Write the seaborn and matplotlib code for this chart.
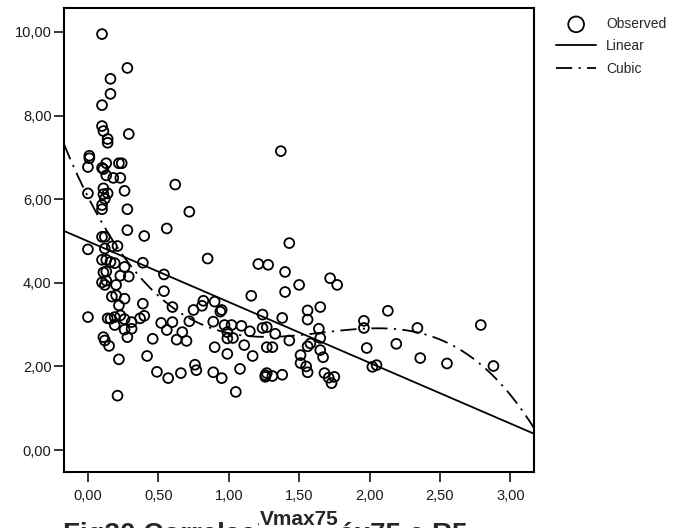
import numpy as np
import pandas as pd
import matplotlib
matplotlib.use("Agg")
import matplotlib.pyplot as plt
import seaborn as sns
from matplotlib.ticker import FuncFormatter, FixedLocator

# Observed pairs (Vmax75, R5)
vmax75 = [
    0.10, 0.28, 0.16, 0.16, 0.10, 0.10, 0.11, 0.14, 0.14, 0.29,
    0.01, 0.01, 0.00, 0.10, 0.11, 0.13, 0.22, 0.24, 0.13, 0.18,
    0.23, 0.26, 0.62, 0.00, 0.11, 0.11, 0.14, 0.12, 0.10, 0.10,
    0.28, 0.72, 0.10, 0.12, 0.28, 0.40, 0.56, 0.00, 0.12, 0.17,
    0.21, 0.39, 0.85, 0.10, 0.13, 0.16, 0.19, 0.26, 0.11, 0.13,
    0.23, 0.29, 0.10, 0.13, 0.20, 0.12, 0.54, 0.54, 0.17, 0.20,
    0.26, 0.39, 0.22, 0.60, 0.75, 0.00, 0.14, 0.16, 0.19, 0.23,
    0.26, 0.31, 0.37, 0.40, 0.19, 0.26, 0.31, 0.28, 0.52, 0.56,
    0.60, 0.67, 0.70, 0.63, 0.72, 0.46, 0.11, 0.12, 0.15, 0.22,
    0.42, 0.49, 0.57, 0.66, 0.76, 0.77, 0.21, 0.81, 0.82, 0.90,
    0.94, 0.95, 0.89, 0.97, 1.02, 0.99, 0.99, 1.03, 0.90, 0.99,
    0.89, 0.95, 1.08, 1.05, 1.21, 1.28, 1.40, 1.40, 1.50, 1.43,
    1.37, 1.72, 1.77, 1.16, 1.24, 1.38, 1.56, 1.56, 1.65, 1.09,
    1.15, 1.24, 1.27, 1.33, 1.11, 1.27, 1.31, 1.17, 1.43, 1.26,
    1.27, 1.31, 1.38, 1.64, 1.65, 1.58, 1.56, 1.65, 1.67, 1.51,
    1.51, 1.55, 1.56, 1.68, 1.71, 1.75, 1.73, 1.96, 1.96, 2.13,
    1.98, 2.19, 2.34, 2.36, 2.55, 2.02, 2.05, 2.79, 2.88, 1.26,
]
r5 = [
    9.95, 9.14, 8.88, 8.52, 8.25, 7.75, 7.63, 7.44, 7.35, 7.56,
    7.04, 6.98, 6.77, 6.75, 6.72, 6.86, 6.86, 6.86, 6.57, 6.51,
    6.51, 6.20, 6.35, 6.14, 6.26, 6.12, 6.14, 6.01, 5.86, 5.76,
    5.76, 5.70, 5.10, 5.10, 5.26, 5.12, 5.30, 4.80, 4.82, 4.87,
    4.88, 4.48, 4.58, 4.55, 4.55, 4.50, 4.47, 4.38, 4.25, 4.27,
    4.17, 4.15, 4.01, 4.05, 3.95, 3.95, 4.20, 3.80, 3.67, 3.70,
    3.62, 3.50, 3.46, 3.42, 3.35, 3.18, 3.15, 3.14, 3.18, 3.22,
    3.13, 3.06, 3.15, 3.21, 2.99, 2.88, 2.90, 2.70, 3.04, 2.87,
    3.06, 2.82, 2.61, 2.64, 3.08, 2.66, 2.70, 2.62, 2.49, 2.17,
    2.25, 1.87, 1.72, 1.84, 2.04, 1.91, 1.30, 3.45, 3.57, 3.55,
    3.31, 3.35, 3.07, 2.99, 2.99, 2.82, 2.67, 2.68, 2.46, 2.30,
    1.86, 1.72, 1.94, 1.39, 4.45, 4.43, 4.26, 3.78, 3.95, 4.95,
    7.15, 4.11, 3.95, 3.69, 3.24, 3.16, 3.34, 3.12, 3.42, 2.97,
    2.84, 2.92, 2.94, 2.78, 2.51, 2.46, 2.46, 2.25, 2.62, 1.79,
    1.84, 1.77, 1.80, 2.90, 2.68, 2.55, 2.48, 2.39, 2.22, 2.27,
    2.08, 2.00, 1.86, 1.84, 1.73, 1.75, 1.60, 3.09, 2.92, 3.33,
    2.44, 2.54, 2.92, 2.20, 2.07, 1.99, 2.03, 2.99, 2.01, 1.75,
]

x_ticks = [0.0, 0.5, 1.0, 1.5, 2.0, 2.5, 3.0]
y_ticks = [0.0, 2.0, 4.0, 6.0, 8.0, 10.0]
legend_labels = ["Observed", "Linear", "Cubic"]
x_label = "Vmax75"
caption = "Fig30 Correlação Vmáx75 e R5"

sns.set_style("white")
plt.rcParams["font.family"] = ["Liberation Sans", "DejaVu Sans"]

W, H = 695, 528
fig = plt.figure(figsize=(W / 100, H / 100), dpi=100)
ax = fig.add_axes([64 / W, 1 - 472 / H, 470 / W, 464 / H])
ax.set_xlim(-0.17, 3.168)
ax.set_ylim(-0.526, 10.574)

df = pd.DataFrame({"Vmax75": vmax75, "R5": r5})

sns.scatterplot(data=df, x="Vmax75", y="R5", ax=ax, marker="o", s=50,
                fc="none", ec="black", linewidth=1.3, legend=False, zorder=3)

# Linear and cubic least-squares fits, extended across the full x range
sns.regplot(data=df, x="Vmax75", y="R5", ax=ax, order=1, scatter=False,
            ci=None, truncate=False,
            line_kws=dict(color="black", lw=1.3))
sns.regplot(data=df, x="Vmax75", y="R5", ax=ax, order=3, scatter=False,
            ci=None, truncate=False,
            line_kws=dict(color="black", lw=1.3, dashes=(9, 3.5, 1.2, 3.5)))

ax.set_xlim(-0.17, 3.168)
ax.set_ylim(-0.526, 10.574)

fmt = FuncFormatter(lambda v, _: f"{v:.2f}".replace(".", ","))
ax.xaxis.set_major_locator(FixedLocator(x_ticks))
ax.yaxis.set_major_locator(FixedLocator(y_ticks))
ax.xaxis.set_major_formatter(fmt)
ax.yaxis.set_major_formatter(fmt)
ax.tick_params(axis="both", which="major", direction="out", length=7,
               width=1.1, color="black", labelsize=10.5, labelcolor="#1a1a1a",
               bottom=True, left=True, top=False, right=False)
ax.tick_params(axis="x", pad=5)
ax.tick_params(axis="y", pad=2)
for sp in ax.spines.values():
    sp.set_color("black")
    sp.set_linewidth(1.5)

ax.set_ylabel("")
ax.set_xlabel(x_label, fontsize=15, fontweight="bold", labelpad=5,
              bbox=dict(facecolor="white", edgecolor="none", pad=0.5))

handles = [ax.collections[0], ax.lines[0], ax.lines[1]]
ax.legend(handles, legend_labels, loc="upper left",
          bbox_to_anchor=(556 / W, 1 - 17 / H), bbox_transform=fig.transFigure,
          frameon=False, fontsize=10, borderpad=0, borderaxespad=0,
          handlelength=2.9, handletextpad=0.7, labelspacing=0.6,
          markerscale=1.6)

fig.text(63 / W, 1 - 542 / H, caption, fontsize=20, fontweight="bold",
         va="baseline", ha="left", zorder=-1)

fig.savefig("out.png", dpi=100)
